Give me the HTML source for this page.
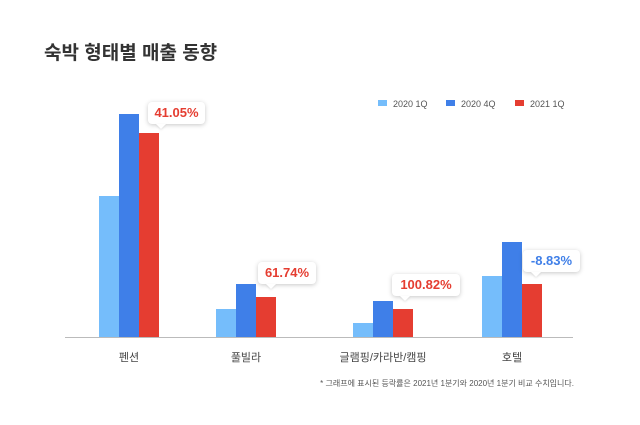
<!DOCTYPE html><html><head><meta charset="utf-8"><style>
body{margin:0;background:#fff;font-family:"Liberation Sans","Noto Sans CJK KR",sans-serif}
.w{position:relative;width:640px;height:425px;overflow:hidden}
.b{position:absolute;bottom:88px;width:20px}
.l{background:#75bdfb}.d{background:#3f7fe8}.r{background:#e53d31}
.t{position:absolute;font-size:11px;color:#444;text-align:center;width:140px}
.bub{position:absolute;background:#fff;border-radius:4px;box-shadow:0 1px 5px rgba(0,0,0,.22);font-weight:bold;font-size:13px;text-align:center;line-height:22px;height:22px}
.bub:after{content:"";position:absolute;left:8px;bottom:-5px;border:5px solid transparent;border-top-color:#fff;border-bottom:0;filter:drop-shadow(0 1px 1px rgba(0,0,0,.12))}
.lg{position:absolute;top:99px;font-size:9px;color:#555}
.lg i{display:inline-block;width:9px;height:6px;margin-right:6px;vertical-align:1px}
</style></head><body><div class="w">
<div style="position:absolute;left:44px;top:38px;font-size:19px;font-weight:bold;color:#333">숙박 형태별 매출 동향</div>
<div class="lg" style="left:378px"><i class="l"></i>2020 1Q</div>
<div class="lg" style="left:446px"><i class="d"></i>2020 4Q</div>
<div class="lg" style="left:515px"><i class="r"></i>2021 1Q</div>
<div class="b l" style="left:99px;height:141px"></div><div class="b d" style="left:119px;height:223px"></div><div class="b r" style="left:139px;height:204px"></div>
<div class="b l" style="left:216px;height:28px"></div><div class="b d" style="left:236px;height:53px"></div><div class="b r" style="left:256px;height:40px"></div>
<div class="b l" style="left:353px;height:14px"></div><div class="b d" style="left:373px;height:36px"></div><div class="b r" style="left:393px;height:28px"></div>
<div class="b l" style="left:482px;height:61px"></div><div class="b d" style="left:502px;height:95px"></div><div class="b r" style="left:522px;height:53px"></div>
<div style="position:absolute;left:65px;top:337px;width:508px;height:1px;background:#bbb"></div>
<div class="bub" style="left:148px;top:102px;width:57px;color:#e53d31">41.05%</div>
<div class="bub" style="left:258px;top:262px;width:58px;color:#e53d31">61.74%</div>
<div class="bub" style="left:392px;top:274px;width:68px;color:#e53d31">100.82%</div>
<div class="bub" style="left:523px;top:250px;width:57px;color:#3f7fe8">-8.83%</div>
<div class="t" style="left:59px;top:349px">펜션</div>
<div class="t" style="left:176px;top:349px">풀빌라</div>
<div class="t" style="left:313px;top:349px">글램핑/카라반/캠핑</div>
<div class="t" style="left:442px;top:349px">호텔</div>
<div style="position:absolute;right:66px;top:378px;font-size:8px;color:#555">* 그래프에 표시된 등락률은 2021년 1분기와 2020년 1분기 비교 수치입니다.</div>
</div></body></html>
